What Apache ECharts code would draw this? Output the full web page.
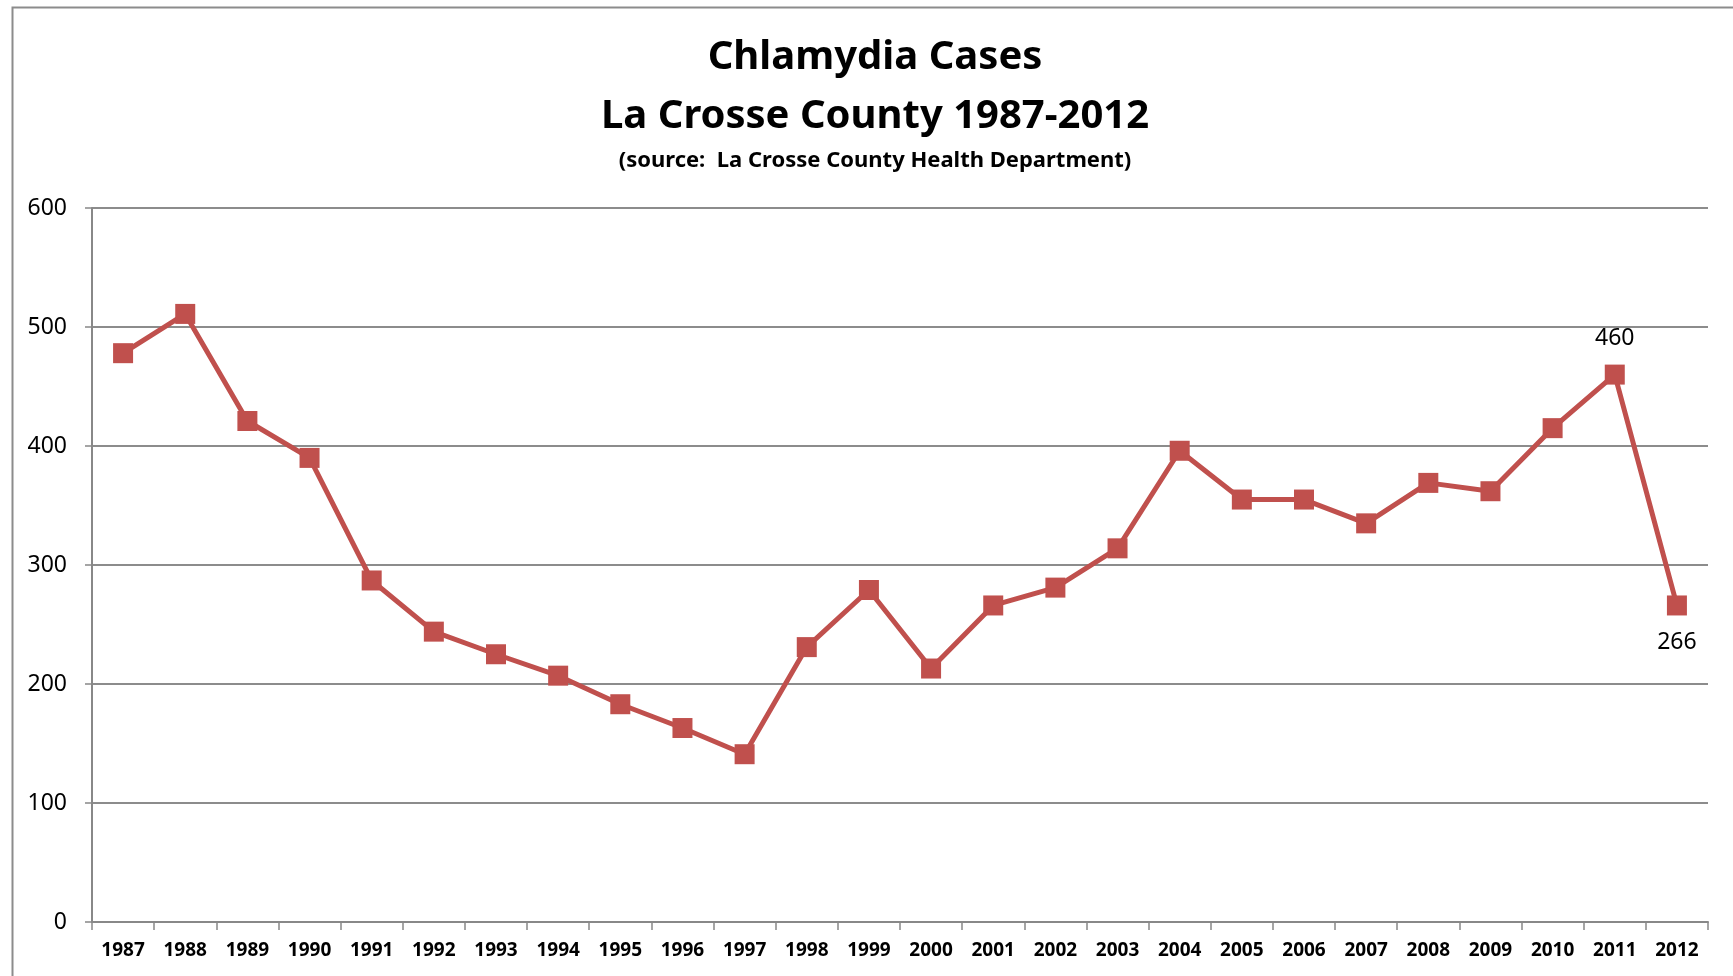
<!DOCTYPE html>
<html>
<head>
<meta charset="utf-8">
<script src="https://cdn.jsdelivr.net/npm/echarts@6/dist/echarts.min.js"></script>
<style>
html,body{margin:0;padding:0;background:#fff;}
#chart{width:1733px;height:976px;}
</style>
</head>
<body>
<div id="chart"></div>
<script>
const years = ['1987','1988','1989','1990','1991','1992','1993','1994','1995','1996','1997','1998','1999','2000','2001','2002','2003','2004','2005','2006','2007','2008','2009','2010','2011','2012'];
const cases = [478,511,421,390,287,244,225,207,183,163,141,231,279,213,266,281,314,396,355,355,335,369,362,415,460,266];
const yTicks = {min:0, max:600, interval:100};
const labelTop = {index:24, position:'top'};
const labelBottom = {index:25, position:'bottom'};

const red = '#C0504D';
const data = cases.map((v,i)=>{
  const d = {value:v};
  if (i === labelTop.index || i === labelBottom.index) {
    const pos = i === labelTop.index ? labelTop.position : labelBottom.position;
    d.label = {show:true, position:pos, distance:15, color:'#000', fontSize:23, fontFamily:'Noto Sans', formatter:'{c}'};
  }
  return d;
});

const chart = echarts.init(document.getElementById('chart'), null, {renderer:'canvas'});
chart.setOption({
  backgroundColor:'#fff',
  animation:false,
  graphic:[{
    type:'rect', left:10, top:5, silent:true,
    shape:{x:0,y:0,width:1800,height:1100},
    style:{fill:'none', stroke:'#8c8c8c', lineWidth:2}
  }],
  title:[
    {text:'Chlamydia Cases', left:870, top:33, textAlign:'center',
     textStyle:{fontFamily:'Noto Sans', fontWeight:'bold', fontSize:40, color:'#000'}},
    {text:'La Crosse County 1987-2012', left:870, top:92, textAlign:'center',
     textStyle:{fontFamily:'Noto Sans', fontWeight:'bold', fontSize:40, color:'#000'}},
    {text:'(source:  La Crosse County Health Department)', left:870, top:145, textAlign:'center',
     textStyle:{fontFamily:'Noto Sans', fontWeight:'bold', fontSize:22, color:'#000'}}
  ],
  grid:{left:92, right:25, top:208, bottom:54, containLabel:false},
  xAxis:{
    type:'category', data:years, boundaryGap:true,
    axisLine:{lineStyle:{color:'#888', width:2}},
    axisTick:{show:true, length:8, lineStyle:{color:'#888', width:1.5}},
    axisLabel:{color:'#000', fontFamily:'Noto Sans', fontWeight:'bold', fontSize:19, margin:19}
  },
  yAxis:{
    type:'value', min:yTicks.min, max:yTicks.max, interval:yTicks.interval,
    axisLine:{show:true, lineStyle:{color:'#888', width:2}},
    axisTick:{show:true, length:7, lineStyle:{color:'#888', width:1.5}},
    splitLine:{lineStyle:{color:'#8c8c8c', width:2}},
    axisLabel:{color:'#000', fontFamily:'Noto Sans', fontSize:23, margin:25}
  },
  series:[{
    type:'line', data:data,
    symbol:'rect', symbolSize:20,
    lineStyle:{color:red, width:5},
    itemStyle:{color:red},
    label:{show:false}
  }]
});
</script>
</body>
</html>
